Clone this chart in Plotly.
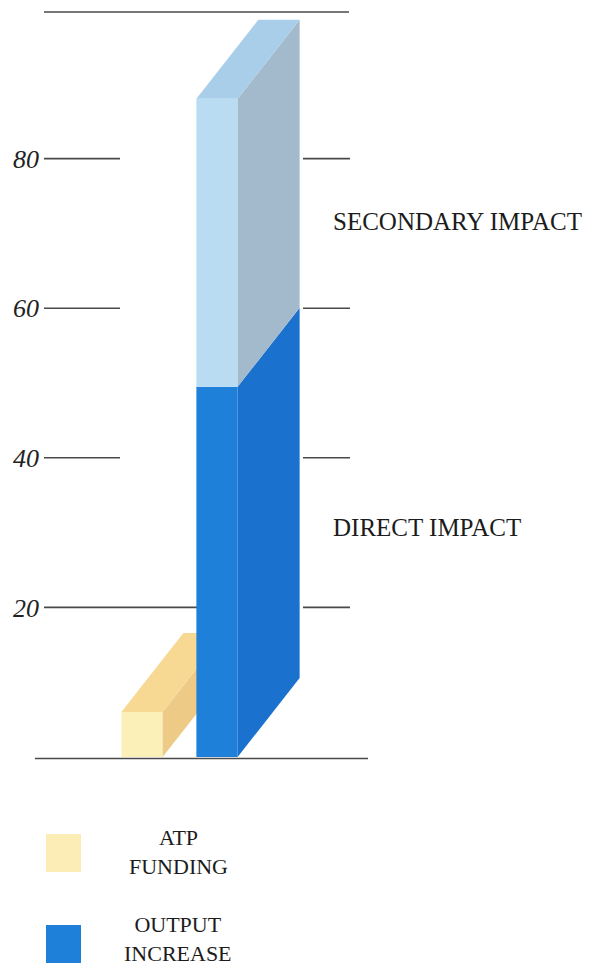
import plotly.graph_objects as go

# ---- data ---------------------------------------------------------------
categories = ["ATP FUNDING", "OUTPUT INCREASE"]
atp_funding = [6.0]
direct_impact = [49.5]
secondary_impact = [38.5]
tick_values = [20, 40, 60, 80]
tick_labels = ["20", "40", "60", "80"]

# ---- geometry / style ---------------------------------------------------
W, H = 590, 967
ML = 44                      # left margin (room for the tick labels)
X0_PX, X_UNIT = 142, 75.0    # pixel of x=0 and pixels per x unit
Y0_PX, Y_UNIT = 757, 7.48    # pixel of y=0 and pixels per y unit
BAR_W = 0.55
DEPTH_X = 62 / X_UNIT        # oblique depth of the 3-D blocks
DEPTH_Y = 79 / Y_UNIT
FONT = "Liberation Serif"
INK = "#1c1c1c"

x_range = [(ML - X0_PX) / X_UNIT, (W - X0_PX) / X_UNIT]
y_range = [-(H - Y0_PX) / Y_UNIT, Y0_PX / Y_UNIT]


def px_x(p):
    """pixel column -> paper x"""
    return (p - ML) / (W - ML)


def px_y(p):
    """pixel row -> paper y"""
    return (H - p) / H


def side_face(xc, y0, y1):
    xr = xc + BAR_W / 2
    return ([xr, xr + DEPTH_X, xr + DEPTH_X, xr, xr],
            [y0, y0 + DEPTH_Y, y1 + DEPTH_Y, y1, y0])


def top_face(xc, yt):
    xl, xr = xc - BAR_W / 2, xc + BAR_W / 2
    return ([xl, xl + DEPTH_X, xr + DEPTH_X, xr, xl],
            [yt, yt + DEPTH_Y, yt + DEPTH_Y, yt, yt])


def poly(xy, color, xa="x", ya="y"):
    return go.Scatter(x=xy[0], y=xy[1], fill="toself", fillcolor=color,
                      mode="lines", line=dict(width=0), hoverinfo="skip",
                      showlegend=False, xaxis=xa, yaxis=ya)


fig = go.Figure()

# ATP funding block (lower subplot layer)
x_atp = 0
fig.add_trace(go.Bar(x=[x_atp], y=atp_funding, width=BAR_W, base=0,
                     marker=dict(color="#FCF0B9", line=dict(width=0)),
                     name=categories[0], showlegend=False))
fig.add_trace(poly(side_face(x_atp, 0, atp_funding[0]), "#EDCB87"))
fig.add_trace(poly(top_face(x_atp, atp_funding[0]), "#F7D994"))

# Output increase block: direct + secondary (overlaid layer, drawn on top)
x_out = 1
total = direct_impact[0] + secondary_impact[0]
fig.add_trace(go.Bar(x=[x_out], y=direct_impact, width=BAR_W, base=0,
                     marker=dict(color="#1F80DA", line=dict(width=0)),
                     name="DIRECT IMPACT", showlegend=False,
                     xaxis="x2", yaxis="y2"))
fig.add_trace(go.Bar(x=[x_out], y=secondary_impact, width=BAR_W,
                     base=direct_impact,
                     marker=dict(color="#B9DCF3", line=dict(width=0)),
                     name="SECONDARY IMPACT", showlegend=False,
                     xaxis="x2", yaxis="y2"))
fig.add_trace(poly(side_face(x_out, 0, direct_impact[0]), "#1B72CE", "x2", "y2"))
fig.add_trace(poly(side_face(x_out, direct_impact[0], total), "#A3BACD", "x2", "y2"))
fig.add_trace(poly(top_face(x_out, total), "#A9CEEA", "x2", "y2"))

# ---- rule lines ---------------------------------------------------------
LINE = dict(color="#4a4a4a", width=1.6)
shapes = []
for v in tick_values:
    left_end = 197 if v == 20 else 120
    shapes.append(dict(type="line", xref="paper", yref="y", x0=px_x(44), x1=px_x(left_end),
                       y0=v, y1=v, line=LINE, layer="below"))
    shapes.append(dict(type="line", xref="paper", yref="y", x0=px_x(303), x1=px_x(350),
                       y0=v, y1=v, line=LINE, layer="below"))
# top rule and baseline
shapes.append(dict(type="line", xref="paper", yref="y", x0=px_x(44), x1=px_x(349),
                   y0=99.6, y1=99.6, line=LINE, layer="below"))
shapes.append(dict(type="line", xref="paper", yref="y", x0=px_x(35), x1=px_x(368),
                   y0=-0.2, y1=-0.2, line=LINE, layer="below"))

# legend swatches
shapes.append(dict(type="rect", xref="paper", yref="paper",
                   x0=px_x(46), x1=px_x(81), y0=px_y(872), y1=px_y(834),
                   fillcolor="#FBEDB5", line=dict(width=0)))
shapes.append(dict(type="rect", xref="paper", yref="paper",
                   x0=px_x(46), x1=px_x(81), y0=px_y(963), y1=px_y(925),
                   fillcolor="#1F80DA", line=dict(width=0)))

# ---- text ---------------------------------------------------------------
BIG = dict(family=FONT, size=25, color=INK)
LEG = dict(family=FONT, size=22, color=INK)


def label(text, x_px, y_px, anchor, font):
    return dict(text=text, xref="paper", yref="paper", x=px_x(x_px), y=px_y(y_px),
                xanchor=anchor, yanchor="middle", align="center",
                showarrow=False, font=font)


annotations = [
    label("SECONDARY IMPACT", 331, 222, "left", BIG),
    label("DIRECT IMPACT", 331, 527, "left", BIG),
    label("ATP<br>FUNDING", 178, 852, "center", LEG),
    label("OUTPUT<br>INCREASE", 178, 939, "center", LEG),
]

fig.update_layout(
    width=W, height=H,
    margin=dict(l=ML, r=0, t=0, b=0),
    paper_bgcolor="white", plot_bgcolor="white",
    barmode="overlay", showlegend=False,
    xaxis=dict(range=x_range, visible=False, fixedrange=True),
    yaxis=dict(range=y_range, showgrid=False, zeroline=False, showline=False,
               ticks="", tickvals=tick_values, ticktext=tick_labels,
               ticklabelstandoff=4,
               tickfont=dict(family=FONT, size=26, color="#222222", style="italic"),
               fixedrange=True),
    xaxis2=dict(range=x_range, overlaying="x", matches="x", visible=False),
    yaxis2=dict(range=y_range, overlaying="y", matches="y", visible=False),
    shapes=shapes,
    annotations=annotations,
)

fig.write_html("out.html")
